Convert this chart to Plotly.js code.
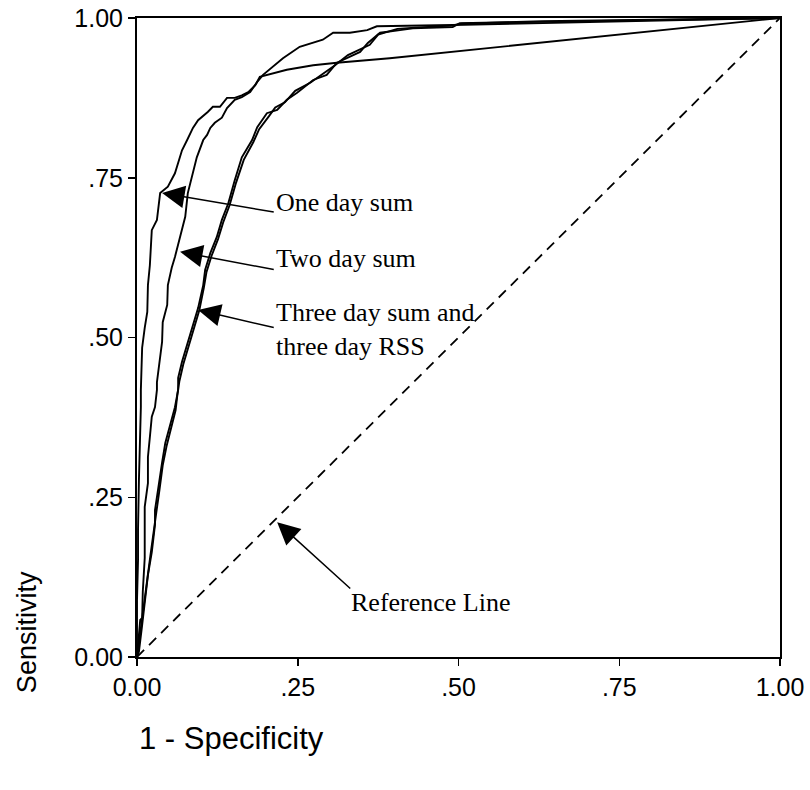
<!DOCTYPE html>
<html>
<head>
<meta charset="utf-8">
<script src="https://cdn.plot.ly/plotly-3.0.1.min.js"></script>
<style>html,body{margin:0;padding:0;background:#fff;}#chart{width:810px;height:790px;}</style>
</head>
<body>
<div id="chart"></div>
<script>
// ROC curves (1 - Specificity, Sensitivity)
const oneDayX = [0,0,0.0016,0.0016,0.003,0.005,0.006,0.006,0.008,0.012,0.016,0.017,0.020,0.023,0.031,0.036,0.048,0.059,0.070,0.078,0.082,0.087,0.095,0.101,0.110,0.118,0.129,0.140,0.152,0.163,0.173,0.184,0.191,0.233,0.274,0.311,0.393,1];
const oneDayY = [0,0.089,0.152,0.199,0.277,0.340,0.391,0.418,0.484,0.515,0.540,0.582,0.613,0.668,0.684,0.726,0.736,0.757,0.793,0.809,0.817,0.828,0.840,0.845,0.853,0.861,0.861,0.875,0.875,0.879,0.884,0.895,0.908,0.919,0.926,0.930,0.937,1];

const twoDayX = [0,0.002,0.005,0.008,0.009,0.012,0.012,0.012,0.017,0.017,0.020,0.023,0.028,0.031,0.031,0.034,0.039,0.040,0.047,0.048,0.054,0.059,0.067,0.075,0.079,0.087,0.093,0.103,0.109,0.114,0.121,0.132,0.140,0.152,0.163,0.176,0.187,0.196,0.227,0.253,0.274,0.289,0.305,0.331,0.358,0.373,0.491,0.627,1];
const twoDayY = [0,0.027,0.058,0.061,0.102,0.155,0.183,0.235,0.272,0.313,0.344,0.376,0.391,0.418,0.430,0.457,0.493,0.524,0.551,0.582,0.609,0.626,0.657,0.689,0.726,0.757,0.782,0.809,0.817,0.828,0.836,0.844,0.859,0.872,0.876,0.884,0.900,0.911,0.937,0.955,0.962,0.966,0.977,0.977,0.981,0.987,0.989,0.992,1];

const threeSumX = [0,0.003,0.008,0.012,0.017,0.023,0.028,0.028,0.033,0.039,0.044,0.051,0.059,0.064,0.064,0.070,0.078,0.087,0.095,0.103,0.106,0.114,0.124,0.132,0.142,0.152,0.163,0.179,0.187,0.202,0.218,0.233,0.249,0.274,0.295,0.311,0.331,0.347,0.359,0.378,0.409,0.429,0.491,0.502,0.627,1];
const threeSumY = [0,0.008,0.050,0.086,0.128,0.164,0.207,0.230,0.266,0.304,0.335,0.360,0.391,0.418,0.437,0.462,0.488,0.520,0.546,0.582,0.606,0.632,0.657,0.684,0.710,0.746,0.782,0.809,0.829,0.851,0.856,0.872,0.883,0.903,0.911,0.930,0.939,0.947,0.961,0.977,0.981,0.984,0.986,0.992,0.994,1];

const threeRssX = [0,0.002,0.006,0.011,0.016,0.021,0.026,0.030,0.035,0.040,0.046,0.053,0.060,0.063,0.066,0.072,0.080,0.089,0.097,0.104,0.108,0.116,0.126,0.134,0.144,0.154,0.166,0.181,0.190,0.205,0.215,0.230,0.246,0.270,0.292,0.308,0.328,0.344,0.362,0.375,0.405,0.432,0.488,0.505,0.630,1];
const threeRssY = [0,0.012,0.045,0.080,0.122,0.160,0.200,0.226,0.262,0.300,0.330,0.356,0.386,0.412,0.432,0.458,0.484,0.516,0.543,0.578,0.602,0.628,0.654,0.680,0.707,0.742,0.778,0.806,0.826,0.846,0.860,0.868,0.886,0.899,0.914,0.926,0.942,0.950,0.958,0.974,0.983,0.985,0.988,0.991,0.995,1];

const refX = [0,1];
const refY = [0,1];

const tickVals = [0,0.25,0.5,0.75,1];
const tickText = ['0.00','.25','.50','.75','1.00'];

const labelText = ['One day sum','Two day sum','Three day sum and<br>three day RSS','Reference Line'];
const xTitle = '1 - Specificity';
const yTitle = 'Sensitivity';
</script>
<script>
const lineStyle = {color:'#000', width:1.9};
const traces = [
  {x:oneDayX, y:oneDayY, mode:'lines', line:lineStyle, name:'One day sum'},
  {x:twoDayX, y:twoDayY, mode:'lines', line:lineStyle, name:'Two day sum'},
  {x:threeSumX, y:threeSumY, mode:'lines', line:lineStyle, name:'Three day sum'},
  {x:threeRssX, y:threeRssY, mode:'lines', line:lineStyle, name:'Three day RSS'},
  {x:refX, y:refY, mode:'lines', line:{color:'#000', width:1.8, dash:'10px,7px'}, name:'Reference Line'}
];

const sans = '"Liberation Sans", Arial, sans-serif';
const tickFont = {family:sans, size:25, color:'#000'};
const serif = {family:'"Liberation Serif", "Times New Roman", serif', size:26, color:'#000'};

const axisCommon = {
  range:[0,1], tickmode:'array', tickvals:tickVals, ticktext:tickText,
  showline:true, linecolor:'#000', linewidth:2, mirror:true,
  ticks:'outside', ticklen:7, tickwidth:1.5, tickcolor:'#000',
  showgrid:false, zeroline:false, tickfont:tickFont, fixedrange:true
};

function arrow(hx, hy, tx, ty){
  return {x:hx, y:hy, ax:tx, ay:ty, xref:'x', yref:'y', axref:'x', ayref:'y',
    text:'', showarrow:true, arrowhead:2, arrowsize:3, arrowwidth:1.5, arrowcolor:'#000'};
}
function label(t, x, y){
  return {x:x, y:y, xref:'x', yref:'y', text:t, showarrow:false, xanchor:'left', yanchor:'middle', align:'left', font:serif};
}

const annotations = [
  arrow(0.039,0.726, 0.215,0.696),
  arrow(0.067,0.634, 0.215,0.606),
  arrow(0.095,0.543, 0.215,0.515),
  arrow(0.218,0.211, 0.334,0.105),
  label(labelText[0], 0.213, 0.712),
  label(labelText[1], 0.213, 0.623),
  label(labelText[2], 0.213, 0.512),
  label(labelText[3], 0.33, 0.085),
  {x:-0.171, y:0.039, xref:'paper', yref:'paper', text:yTitle, textangle:-90, showarrow:false,
   xanchor:'center', yanchor:'middle', font:{family:sans, size:27, color:'#000'}},
  {x:0, y:-0.127, xref:'paper', yref:'paper', text:xTitle, showarrow:false,
   xanchor:'left', yanchor:'middle', font:{family:sans, size:31, color:'#000'}}
];

const layout = {
  width:810, height:790,
  margin:{l:137, r:30, t:18, b:133},
  paper_bgcolor:'#fff', plot_bgcolor:'#fff',
  showlegend:false,
  xaxis:Object.assign({}, axisCommon),
  yaxis:Object.assign({}, axisCommon),
  annotations:annotations
};

Plotly.newPlot('chart', traces, layout, {staticPlot:true, displayModeBar:false});
</script>
</body>
</html>
